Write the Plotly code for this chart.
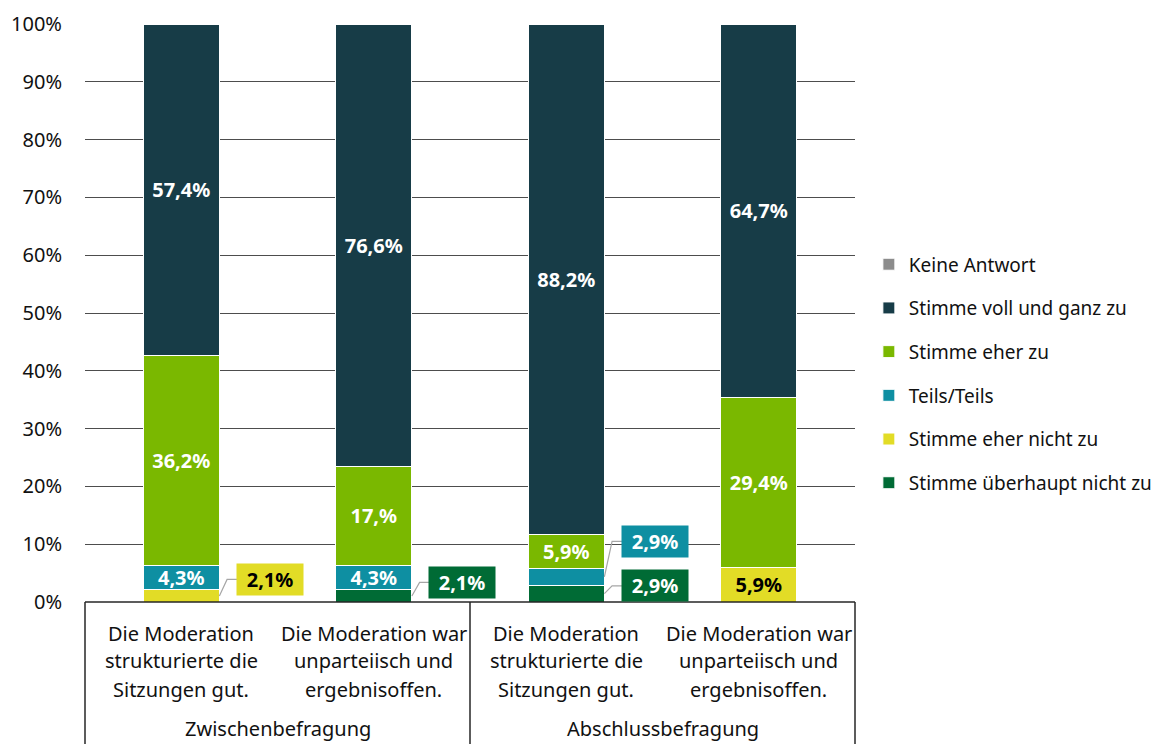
import plotly.graph_objects as go

# ---- data ----
categories = ["Die Moderation<br>strukturierte die<br>Sitzungen gut.",
              "Die Moderation war<br>unparteiisch und<br>ergebnisoffen.",
              "Die Moderation<br>strukturierte die<br>Sitzungen gut.",
              "Die Moderation war<br>unparteiisch und<br>ergebnisoffen."]
groups = ["Zwischenbefragung", "Abschlussbefragung"]
series_names = ["Stimme überhaupt nicht zu", "Stimme eher nicht zu", "Teils/Teils",
                "Stimme eher zu", "Stimme voll und ganz zu", "Keine Antwort"]
ueberhaupt_nicht = [0.0, 2.1, 2.9, 0.0]
eher_nicht = [2.1, 0.0, 0.0, 5.9]
teils = [4.3, 4.3, 2.9, 0.0]
eher_zu = [36.2, 17.0, 5.9, 29.4]
voll = [57.4, 76.6, 88.2, 64.7]
keine = [0.0, 0.0, 0.0, 0.0]
y_ticks = [0, 10, 20, 30, 40, 50, 60, 70, 80, 90, 100]

colors = ["#006B35", "#E2DC26", "#0E8FA2", "#7AB800", "#173C47", "#8C8C8C"]
series = [ueberhaupt_nicht, eher_nicht, teils, eher_zu, voll, keine]

# labels shown as callouts outside the bar: (series index, bar index) -> box level (%)
callouts = {(1, 0): 3.9, (0, 1): 3.4, (2, 2): 10.5, (0, 2): 2.8}

FONT = "Noto Sans"
TXT = 20
LBL = 20

# page is offset by the default 8px body margin
W, H = 1156, 736
L, T = 77, 16
R = W - (855 - 8)
B = H - (602 - 8)
PH = H - T - B


def fmt(v):
    s = f"{v:.1f}".replace(".", ",")
    if s.endswith("0"):
        s = s[:-1]
    return s + "%"


x = list(range(len(categories)))
fig = go.Figure()
for si, (name, vals, col) in enumerate(zip(series_names, series, colors)):
    texts = []
    for bi, v in enumerate(vals):
        if v <= 0 or (si, bi) in callouts:
            texts.append("")
        else:
            texts.append(fmt(v))
    fig.add_trace(go.Bar(
        x=x, y=vals, name=name, marker=dict(color=col, line=dict(color="white", width=1)),
        text=texts, textposition="inside", insidetextanchor="middle", textangle=0,
        textfont=dict(family=FONT, size=LBL, color="black" if si == 1 else "white", weight="bold"),
        legendgroup=name, legendrank=len(series_names) - si, hoverinfo="skip",
    ))

shapes = []
annotations = []
bar_half = 0.198
for (si, bi), by in callouts.items():
    vals = series[si]
    base = sum(series[k][bi] for k in range(si))
    mid = base + vals[bi] / 2
    bx = bi + 0.461
    left = bx - 0.166
    elbow = bi + bar_half + 0.04
    shapes.append(dict(type="path", xref="x", yref="y",
                       path=f"M {bi + bar_half},{mid} L {elbow},{by} L {left},{by}",
                       line=dict(color="#A6A6A6", width=1.2), layer="above"))
    annotations.append(dict(x=bx, y=by, xref="x", yref="y", text=fmt(vals[bi]), showarrow=False,
                            bgcolor=colors[si], width=64, height=29,
                            font=dict(family=FONT, size=LBL, color="black" if si == 1 else "white",
                                      weight="bold")))

# category axis box
ext = -0.3
shapes.append(dict(type="line", xref="paper", yref="paper", x0=0, x1=1, y0=0, y1=0,
                   line=dict(color="#262626", width=1.5), layer="above"))
for xp in [0, 0.5, 1]:
    shapes.append(dict(type="line", xref="paper", yref="paper", x0=xp, x1=xp, y0=0, y1=ext,
                       line=dict(color="#262626", width=1.5), layer="above"))

line_y = [633, 661, 689]
for bi, lab in enumerate(categories):
    for li, part in enumerate(lab.split("<br>")):
        annotations.append(dict(x=bi, y=-(line_y[li] - 602) / PH, xref="x", yref="paper",
                                text=part, showarrow=False, xanchor="center", yanchor="middle",
                                font=dict(family=FONT, size=TXT, color="#111111")))
for gi, g in enumerate(groups):
    annotations.append(dict(x=0.25 + 0.5 * gi, y=-(728 - 602) / PH, xref="paper", yref="paper",
                            text=g, showarrow=False, xanchor="center", yanchor="middle",
                            font=dict(family=FONT, size=TXT, color="#111111")))

fig.update_layout(
    width=W, height=H,
    margin=dict(l=L, r=R, t=T, b=B, autoexpand=False),
    barmode="stack", bargap=0.605,
    plot_bgcolor="white", paper_bgcolor="white",
    font=dict(family=FONT, size=TXT, color="#111111"),
    xaxis=dict(range=[-0.5, 3.5], showticklabels=False, showgrid=False, zeroline=False,
               fixedrange=True, automargin=False),
    yaxis=dict(range=[0, 100], tickvals=y_ticks, ticktext=[f"{t}%" for t in y_ticks],
               showgrid=True, gridcolor="#4D4D4D", gridwidth=1.4, zeroline=False,
               ticklabelstandoff=22, automargin=False,
               tickfont=dict(family=FONT, size=TXT, color="#111111")),
    legend=dict(x=1.018, y=0.617, xanchor="left", yanchor="top", traceorder="grouped",
                tracegroupgap=16, font=dict(family=FONT, size=19, color="#111111"),
                itemclick=False),
    shapes=shapes, annotations=annotations,
    uniformtext=dict(minsize=LBL, mode="show"),
    showlegend=True,
)

fig.write_html("out.html")
